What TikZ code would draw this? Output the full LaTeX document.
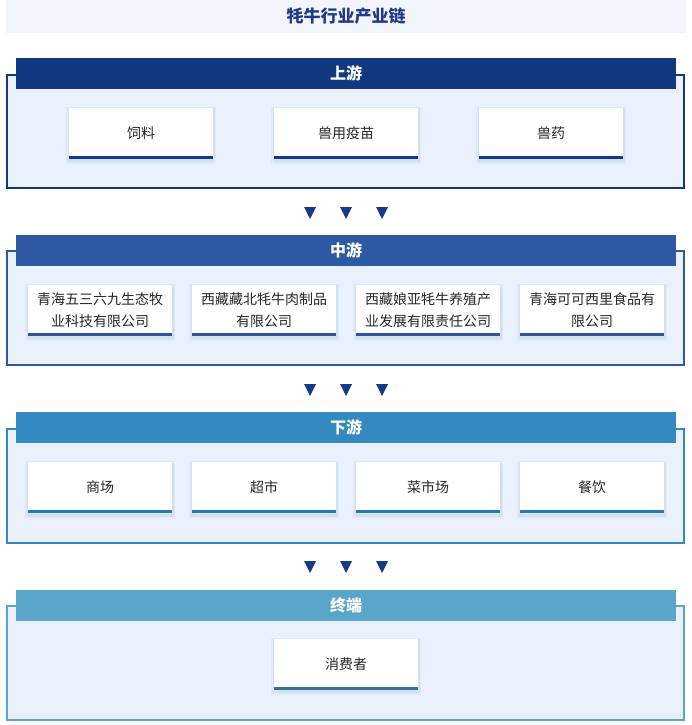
\documentclass[tikz,border=0pt]{standalone}
\usepackage{fontspec}
\setmainfont{Noto Sans CJK SC}
\definecolor{cA}{HTML}{10397F}
\definecolor{cB}{HTML}{2D59A5}
\definecolor{cC}{HTML}{3389C0}
\definecolor{cD}{HTML}{5AA6CB}
\definecolor{lA}{HTML}{10398A}
\definecolor{lB}{HTML}{2D55A0}
\definecolor{lC}{HTML}{2179B6}
\definecolor{lD}{HTML}{2F7397}
\definecolor{frameBg}{HTML}{EAF1FC}
\definecolor{titleBg}{HTML}{F2F6FC}
\definecolor{titleFg}{HTML}{1F3A8A}
\definecolor{txt}{HTML}{262626}
\definecolor{triC}{HTML}{16398A}
\definecolor{shd}{HTML}{5070A0}
\tikzset{
  x=1pt,y=-1pt,
  framebox/.style={draw=#1,line width=1.5pt,fill=frameBg},
  headbar/.style={fill=#1,draw=none,minimum width=660pt,minimum height=31pt,inner sep=0pt,text=white,font=\bfseries\fontsize{16}{18}\selectfont},
  itembox/.style={fill=white,draw=none,minimum width=144pt,minimum height=51pt,inner sep=0pt,align=center,text=txt,font=\fontsize{14}{22}\selectfont,
    preaction={draw=shd,draw opacity=.06,line width=6pt,transform canvas={yshift=-2pt}},
    preaction={draw=shd,draw opacity=.07,line width=3pt,transform canvas={yshift=-2pt}},
    path picture={\fill[#1] ([yshift=3pt]path picture bounding box.south west) rectangle (path picture bounding box.south east);}},
}
\newcommand{\tris}[1]{%
  \foreach \xx in {310,346,382}{\fill[triC] (\xx-6,#1-6) -- (\xx+6,#1-6) -- (\xx,#1+6) -- cycle;}}
\begin{document}
\begin{tikzpicture}
\useasboundingbox (0,0) rectangle (691,725);
\fill[white] (0,0) rectangle (691,725);
% title
\fill[titleBg] (6,0) rectangle (686,33);
\node[font=\bfseries\fontsize{17}{20}\selectfont,text=titleFg] (title) at (346,16) {牦牛行业产业链};
% section 1
\draw[framebox=cA] (7,75) rectangle (684,188);
\node[headbar=cA] (h1) at (346,73.5) {上游};
\node[itembox=lA] (u1) at (141,133) {饲料};
\node[itembox=lA] (u2) at (346,133) {兽用疫苗};
\node[itembox=lA] (u3) at (551,133) {兽药};
\tris{213}
% section 2
\draw[framebox=cB] (7,251) rectangle (684,365);
\node[headbar=cB] (h2) at (346,250.5) {中游};
\node[itembox=lB] (m1) at (100,310) {青海五三六九生态牧\\业科技有限公司};
\node[itembox=lB] (m2) at (264,310) {西藏藏北牦牛肉制品\\有限公司};
\node[itembox=lB] (m3) at (428,310) {西藏娘亚牦牛养殖产\\业发展有限责任公司};
\node[itembox=lB] (m4) at (592,310) {青海可可西里食品有\\限公司};
\tris{390}
% section 3
\draw[framebox=cC] (7,429) rectangle (684,543);
\node[headbar=cC] (h3) at (346,427.5) {下游};
\node[itembox=lC] (d1) at (100,487.5) {商场};
\node[itembox=lC] (d2) at (264,487.5) {超市};
\node[itembox=lC] (d3) at (428,487.5) {菜市场};
\node[itembox=lC] (d4) at (592,487.5) {餐饮};
\tris{567}
% section 4
\draw[framebox=cD] (7,606) rectangle (684,720);
\node[headbar=cD] (h4) at (346,605) {终端};
\node[itembox=lD] (e1) at (346,664) {消费者};
\end{tikzpicture}
\end{document}
